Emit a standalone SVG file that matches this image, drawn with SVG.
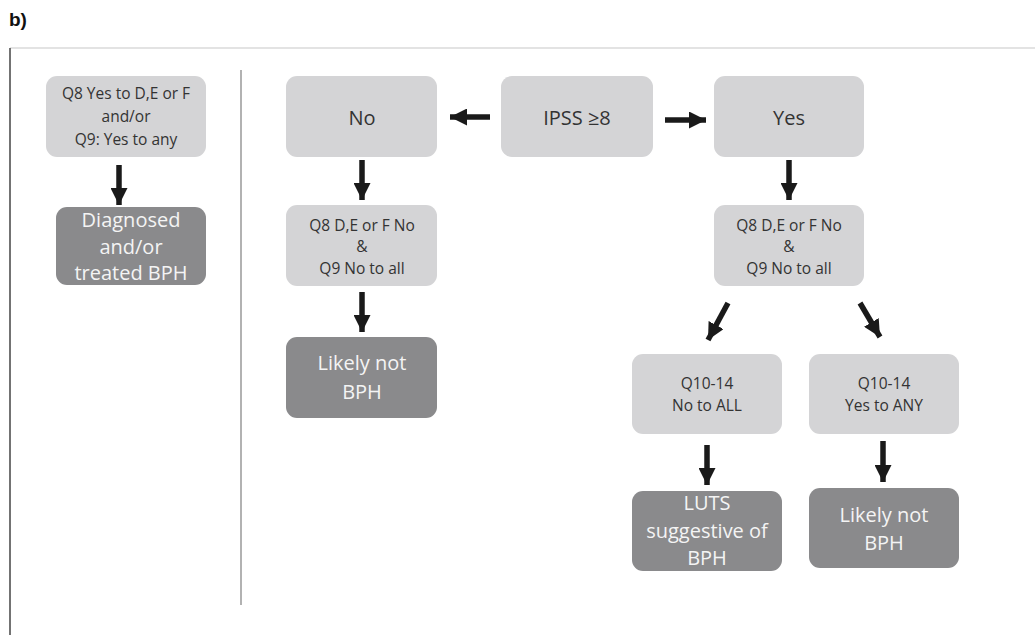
<svg xmlns="http://www.w3.org/2000/svg" width="1035" height="635" viewBox="0 0 1035 635">
<defs>
<style>
.lt{fill:#d4d4d6}
.dk{fill:#8a8a8c}
.t{font-family:"Open Sans","Noto Sans","DejaVu Sans",sans-serif;text-anchor:middle}
.t15{font-size:15.5px;fill:#333}
.t20{font-size:20px;fill:#333}
.tw{font-size:20px;fill:#f4f4f4}
.ar{stroke:#1a1a1a;stroke-width:5.5;fill:none;marker-end:url(#ah)}
</style>
<marker id="ah" markerUnits="userSpaceOnUse" markerWidth="18" markerHeight="17" refX="17" refY="8.5" orient="auto">
<path d="M0,0 L17,8.5 L0,17 z" fill="#1a1a1a"/>
</marker>
</defs>
<rect x="0" y="0" width="1035" height="635" fill="#ffffff"/>
<text x="9" y="26" font-family="Liberation Sans,Arial,sans-serif" font-weight="bold" font-size="19" fill="#111">b)</text>
<line x1="10" y1="48" x2="1035" y2="48" stroke="#c8c8c8" stroke-width="1.2"/>
<line x1="10" y1="48" x2="10" y2="635" stroke="#444" stroke-width="1.5"/>
<line x1="241" y1="70" x2="241" y2="605" stroke="#999" stroke-width="1.5"/>

<g id="n-left-q">
<rect class="lt" x="46" y="76" width="160" height="81" rx="11"/>
<text class="t t15" x="126" y="99">Q8 Yes to D,E or F</text>
<text class="t t15" x="126" y="122">and/or</text>
<text class="t t15" x="126" y="145">Q9: Yes to any</text>
</g>
<g id="n-diagnosed">
<rect class="dk" x="56" y="207" width="150" height="78" rx="11"/>
<text class="t tw" x="131" y="227">Diagnosed</text>
<text class="t tw" x="131" y="254">and/or</text>
<text class="t tw" x="131" y="280">treated BPH</text>
</g>
<g id="n-no">
<rect class="lt" x="286" y="76" width="151" height="81" rx="11"/>
<text class="t t20" x="362" y="125">No</text>
</g>
<g id="n-ipss">
<rect class="lt" x="501" y="76" width="152" height="81" rx="11"/>
<text class="t t20" x="577" y="125">IPSS ≥8</text>
</g>
<g id="n-yes">
<rect class="lt" x="714" y="76" width="150" height="81" rx="11"/>
<text class="t t20" x="789" y="125">Yes</text>
</g>
<g id="n-left-q8">
<rect class="lt" x="286" y="205" width="151" height="81" rx="11"/>
<text class="t t15" x="362" y="230.5">Q8 D,E or F No</text>
<text class="t t15" x="362" y="252">&amp;</text>
<text class="t t15" x="362" y="273.5">Q9 No to all</text>
</g>
<g id="n-right-q8">
<rect class="lt" x="714" y="205" width="150" height="81" rx="11"/>
<text class="t t15" x="789" y="230.5">Q8 D,E or F No</text>
<text class="t t15" x="789" y="252">&amp;</text>
<text class="t t15" x="789" y="273.5">Q9 No to all</text>
</g>
<g id="n-likely-left">
<rect class="dk" x="286" y="337" width="151" height="81" rx="11"/>
<text class="t tw" x="362" y="370">Likely not</text>
<text class="t tw" x="362" y="399">BPH</text>
</g>
<g id="n-q10-no">
<rect class="lt" x="632" y="354" width="150" height="80" rx="11"/>
<text class="t t15" x="707" y="388.5">Q10-14</text>
<text class="t t15" x="707" y="410.5">No to ALL</text>
</g>
<g id="n-q10-yes">
<rect class="lt" x="809" y="354" width="150" height="80" rx="11"/>
<text class="t t15" x="884" y="388.5">Q10-14</text>
<text class="t t15" x="884" y="410.5">Yes to ANY</text>
</g>
<g id="n-luts">
<rect class="dk" x="632" y="491" width="150" height="80" rx="11"/>
<text class="t tw" x="707" y="510">LUTS</text>
<text class="t tw" x="707" y="538">suggestive of</text>
<text class="t tw" x="707" y="565">BPH</text>
</g>
<g id="n-likely-right">
<rect class="dk" x="809" y="488" width="150" height="80" rx="11"/>
<text class="t tw" x="884" y="522">Likely not</text>
<text class="t tw" x="884" y="550">BPH</text>
</g>

<g id="connectors">
<line class="ar" x1="119" y1="165" x2="119" y2="205"/>
<line class="ar" x1="490" y1="117" x2="450" y2="117"/>
<line class="ar" x1="665" y1="120" x2="706" y2="120"/>
<line class="ar" x1="362" y1="160" x2="362" y2="200"/>
<line class="ar" x1="789" y1="160" x2="789" y2="200"/>
<line class="ar" x1="362" y1="292" x2="362" y2="332"/>
<line class="ar" x1="728" y1="303" x2="708" y2="340"/>
<line class="ar" x1="860" y1="303" x2="880" y2="337"/>
<line class="ar" x1="707" y1="445" x2="707" y2="485"/>
<line class="ar" x1="883" y1="441" x2="883" y2="482"/>
</g>
</svg>
